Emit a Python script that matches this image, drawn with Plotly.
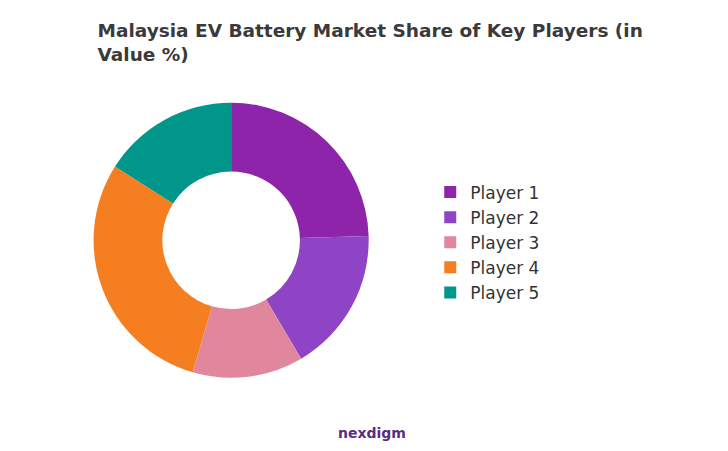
import plotly.graph_objects as go

# Доли игроков, %
players = ["Player 1", "Player 2", "Player 3", "Player 4", "Player 5"]
shares = [24.5, 17, 13, 29.5, 16]
colors = ["#8E24AA", "#8E44C4", "#E0879E", "#F57F20", "#00968A"]

fig = go.Figure()
fig.add_trace(go.Pie(
    labels=players, values=shares, hole=0.5, sort=False,
    direction="clockwise", rotation=0,
    marker=dict(colors=colors), textinfo="none", hoverinfo="label+percent",
    domain=dict(x=[0.117, 0.496], y=[0.18, 0.79]),
))

fig.update_layout(
    width=728, height=451,
    paper_bgcolor="white", plot_bgcolor="white",
    font=dict(family="DejaVu Sans, sans-serif", color="#333"),
    title=dict(text="<b>Malaysia EV Battery Market Share of Key Players (in<br>Value %)</b>",
               x=0.123, xanchor="left", y=0.935, yanchor="top",
               font=dict(size=18.5, color="#3a3a3a")),
    margin=dict(l=0, r=0, t=0, b=0),
    legend=dict(x=0.58, y=0.48, yanchor="middle", font=dict(size=17),
                itemsizing="constant"),
    annotations=[dict(text="<b>nexdigm</b>", x=0.5, y=0.035, xref="paper", yref="paper",
                      showarrow=False, font=dict(size=14, color="#5a2d82"))],
)

fig.write_html("out.html")
